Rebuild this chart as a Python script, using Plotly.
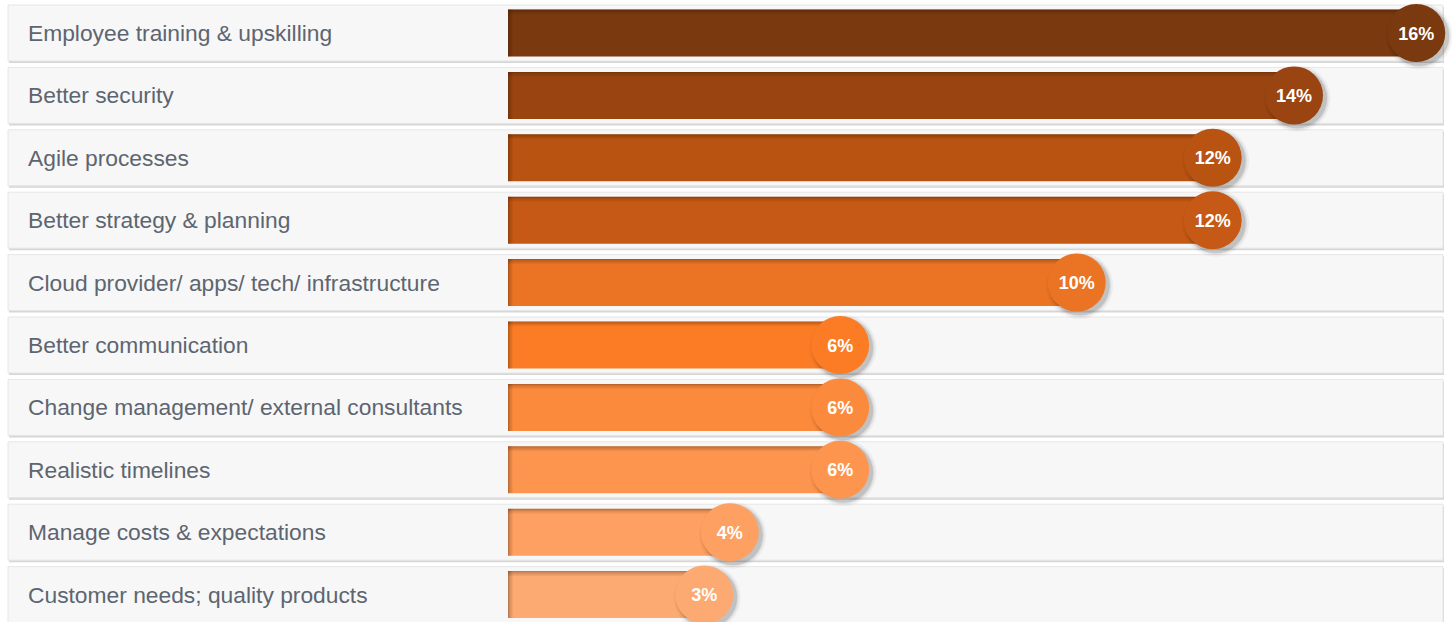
import plotly.graph_objects as go

categories = [
    "Employee training & upskilling",
    "Better security",
    "Agile processes",
    "Better strategy & planning",
    "Cloud provider/ apps/ tech/ infrastructure",
    "Better communication",
    "Change management/ external consultants",
    "Realistic timelines",
    "Manage costs & expectations",
    "Customer needs; quality products",
]
values = [15.97, 13.82, 12.39, 12.39, 10.0, 5.84, 5.84, 5.84, 3.9, 3.45]
labels = ["16%", "14%", "12%", "12%", "10%", "6%", "6%", "6%", "4%", "3%"]
colors = ["#7A390E", "#9A4511", "#B95311", "#C55915", "#EB7424",
          "#FB7C24", "#FC8A3C", "#FD954F", "#FDA061", "#FDAA72"]

W, H = 1452, 622
X0_PX, PX_PER = 508, 56.875      # bar origin and scale
ROW0_PX, ROW_PX = 33, 62.4       # first row centre and row pitch

x_range = [-X0_PX / PX_PER, (W - X0_PX) / PX_PER]
y_range = [(H - ROW0_PX) / ROW_PX, -ROW0_PX / ROW_PX]
dx = 1 / PX_PER
dy = 1 / ROW_PX
bar_w = 47 * dy
rows = list(range(len(categories)))

fig = go.Figure()

# row strips (shadow + panel)
shapes = []
for i in rows:
    shapes.append(dict(type="rect", xref="paper", yref="y", layer="below",
                       x0=9 / W, x1=1444 / W, y0=i - 26 * dy, y1=i + 30 * dy,
                       fillcolor="#D6D6D6", line=dict(width=0)))
    shapes.append(dict(type="rect", xref="paper", yref="y", layer="below",
                       x0=8 / W, x1=1443 / W, y0=i - 28 * dy, y1=i + 28 * dy,
                       fillcolor="#F7F7F7", line=dict(color="#E6E6E6", width=1)))

fig.add_trace(go.Bar(
    y=rows, x=values, orientation="h", width=bar_w,
    marker=dict(color=colors, line=dict(width=0)), hoverinfo="skip", showlegend=False,
))

# inner shadow along the top and left edge of the bars
for k, a in enumerate([0.30, 0.20, 0.12, 0.06]):
    fig.add_trace(go.Bar(
        y=rows, x=values, orientation="h", width=1.2 * dy,
        offset=-bar_w / 2 + k * 1.2 * dy,
        marker=dict(color=f"rgba(40,15,0,{a})", line=dict(width=0)),
        hoverinfo="skip", showlegend=False,
    ))
    fig.add_trace(go.Bar(
        y=rows, x=[1.2 * dx] * len(values), base=[k * 1.2 * dx] * len(values),
        orientation="h", width=bar_w,
        marker=dict(color=f"rgba(40,15,0,{a})", line=dict(width=0)),
        hoverinfo="skip", showlegend=False,
    ))

# soft drop shadow under the value circles
for size, a in [(67, 0.04), (63, 0.07), (60, 0.12)]:
    fig.add_trace(go.Scatter(
        y=[r + 3 * dy for r in rows], x=[v + 3 * dx for v in values], mode="markers",
        marker=dict(size=size, color=f"rgba(0,0,0,{a})", line=dict(width=0)),
        hoverinfo="skip", showlegend=False,
    ))

fig.add_trace(go.Scatter(
    y=rows, x=values, mode="markers",
    marker=dict(size=58, color=colors, line=dict(width=0)),
    hoverinfo="skip", showlegend=False,
))
fig.add_trace(go.Scatter(
    y=[r + 2 * dy for r in rows], x=values, mode="text",
    text=labels, textposition="middle center",
    textfont=dict(family="Liberation Sans, Arial", size=18, color="white", weight="bold"),
    hoverinfo="skip", showlegend=False,
))

# category labels
for i, c in zip(rows, categories):
    fig.add_annotation(x=26 / W, xref="paper", y=i, yref="y", text=c,
                       showarrow=False, xanchor="left", yanchor="middle",
                       font=dict(family="Liberation Sans, Arial", size=22.8, color="#5D6570"))

fig.update_layout(
    width=W, height=H,
    margin=dict(l=0, r=0, t=0, b=0),
    paper_bgcolor="white", plot_bgcolor="white",
    barmode="overlay",
    shapes=shapes,
    xaxis=dict(range=x_range, visible=False, fixedrange=True),
    yaxis=dict(range=y_range, visible=False, fixedrange=True),
)

fig.write_html("out.html", config={"displayModeBar": False},
               post_script="document.body.style.margin='0';")
